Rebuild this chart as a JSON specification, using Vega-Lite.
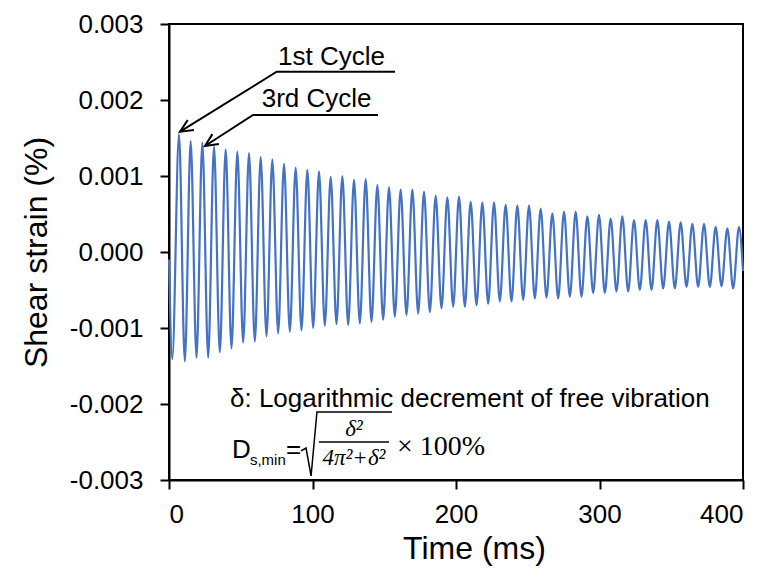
{
  "$schema": "https://vega.github.io/schema/vega-lite/v6.json",
  "width": 574,
  "height": 456,
  "autosize": {"type": "none"},
  "padding": {"left": 169, "top": 24, "right": 25, "bottom": 90},
  "background": "white",
  "config": {
    "view": {"stroke": "black", "strokeWidth": 2},
    "axis": {
      "grid": false,
      "domainColor": "black",
      "domainWidth": 2,
      "tickColor": "black",
      "tickWidth": 2,
      "tickSize": 9,
      "labelFont": "Liberation Sans",
      "labelFontSize": 26,
      "labelColor": "black",
      "titleFont": "Liberation Sans",
      "titleFontSize": 32,
      "titleFontWeight": "normal",
      "titleColor": "black"
    }
  },
  "datasets": {
    "signal": [
      {"t": 0, "v": -0.0001},
      {"t": 2.3, "v": -0.00141}, {"t": 6.97, "v": 0.00155},
      {"t": 11.03, "v": -0.00144}, {"t": 15.10, "v": 0.00146},
      {"t": 19.16, "v": -0.00139}, {"t": 23.23, "v": 0.00144},
      {"t": 27.29, "v": -0.00139}, {"t": 31.36, "v": 0.00139},
      {"t": 35.42, "v": -0.00132}, {"t": 39.49, "v": 0.00135},
      {"t": 43.55, "v": -0.00127}, {"t": 47.62, "v": 0.00132},
      {"t": 51.68, "v": -0.00119}, {"t": 55.75, "v": 0.00130},
      {"t": 59.81, "v": -0.00118}, {"t": 63.88, "v": 0.00125},
      {"t": 67.94, "v": -0.00111}, {"t": 72.01, "v": 0.00122},
      {"t": 76.07, "v": -0.00107}, {"t": 80.14, "v": 0.00116},
      {"t": 84.20, "v": -0.00105}, {"t": 88.27, "v": 0.00111},
      {"t": 92.33, "v": -0.00103}, {"t": 96.40, "v": 0.00108},
      {"t": 100.46, "v": -0.00100}, {"t": 104.53, "v": 0.00106},
      {"t": 108.59, "v": -0.00097}, {"t": 112.66, "v": 0.00099},
      {"t": 116.72, "v": -0.00095}, {"t": 120.79, "v": 0.00100},
      {"t": 124.85, "v": -0.00096}, {"t": 128.92, "v": 0.00095},
      {"t": 132.98, "v": -0.00094}, {"t": 137.05, "v": 0.00096},
      {"t": 141.11, "v": -0.00092}, {"t": 145.18, "v": 0.00088},
      {"t": 149.24, "v": -0.00089}, {"t": 153.31, "v": 0.00085},
      {"t": 157.37, "v": -0.00085}, {"t": 161.44, "v": 0.00082},
      {"t": 165.50, "v": -0.00083}, {"t": 169.57, "v": 0.00082},
      {"t": 173.63, "v": -0.00081}, {"t": 177.70, "v": 0.00079},
      {"t": 181.76, "v": -0.00079}, {"t": 185.83, "v": 0.00074},
      {"t": 189.89, "v": -0.00074}, {"t": 193.96, "v": 0.00072},
      {"t": 198.02, "v": -0.00072}, {"t": 202.09, "v": 0.00073},
      {"t": 206.15, "v": -0.00072}, {"t": 210.22, "v": 0.00066},
      {"t": 214.28, "v": -0.00070}, {"t": 218.35, "v": 0.00065},
      {"t": 222.41, "v": -0.00068}, {"t": 226.48, "v": 0.00065},
      {"t": 230.54, "v": -0.00065}, {"t": 234.61, "v": 0.00062},
      {"t": 238.67, "v": -0.00065}, {"t": 242.74, "v": 0.00061},
      {"t": 246.80, "v": -0.00063}, {"t": 250.87, "v": 0.00061},
      {"t": 254.93, "v": -0.00061}, {"t": 259.00, "v": 0.00057},
      {"t": 263.06, "v": -0.00060}, {"t": 267.13, "v": 0.00051},
      {"t": 271.19, "v": -0.00061}, {"t": 275.26, "v": 0.00053},
      {"t": 279.32, "v": -0.00059}, {"t": 283.39, "v": 0.00053},
      {"t": 287.45, "v": -0.00059}, {"t": 291.52, "v": 0.00047},
      {"t": 295.58, "v": -0.00054}, {"t": 299.65, "v": 0.00049},
      {"t": 303.71, "v": -0.00054}, {"t": 307.78, "v": 0.00044},
      {"t": 311.84, "v": -0.00052}, {"t": 315.91, "v": 0.00047},
      {"t": 319.97, "v": -0.00052}, {"t": 324.04, "v": 0.00042},
      {"t": 328.10, "v": -0.00050}, {"t": 332.17, "v": 0.00042},
      {"t": 336.23, "v": -0.00050}, {"t": 340.30, "v": 0.00042},
      {"t": 344.36, "v": -0.00048}, {"t": 348.43, "v": 0.00040},
      {"t": 352.49, "v": -0.00048}, {"t": 356.56, "v": 0.00039},
      {"t": 360.62, "v": -0.00046}, {"t": 364.69, "v": 0.00037},
      {"t": 368.75, "v": -0.00046}, {"t": 372.82, "v": 0.00037},
      {"t": 376.88, "v": -0.00046}, {"t": 380.95, "v": 0.00033},
      {"t": 385.01, "v": -0.00045}, {"t": 389.08, "v": 0.00031},
      {"t": 393.14, "v": -0.00048}, {"t": 397.21, "v": 0.00033},
      {"t": 400, "v": -0.00025}
    ],
    "paths": [
      {"path": "a1", "ord": 1, "t": 157.5, "v": 0.002372},
      {"path": "a1", "ord": 2, "t": 75.05, "v": 0.002372},
      {"path": "a1", "ord": 3, "t": 7.67, "v": 0.001583},
      {"path": "h1", "ord": 1, "t": 17.35, "v": 0.001605},
      {"path": "h1", "ord": 2, "t": 7.67, "v": 0.001583},
      {"path": "h1", "ord": 3, "t": 13.03, "v": 0.001737},
      {"path": "a2", "ord": 1, "t": 145.6, "v": 0.001803},
      {"path": "a2", "ord": 2, "t": 58.54, "v": 0.001803},
      {"path": "a2", "ord": 3, "t": 25.09, "v": 0.001395},
      {"path": "h2", "ord": 1, "t": 34.77, "v": 0.00142},
      {"path": "h2", "ord": 2, "t": 25.09, "v": 0.001395},
      {"path": "h2", "ord": 3, "t": 30.24, "v": 0.001551}
    ],
    "mathpaths": [
      {"path": "sqrt", "ord": 1, "t": 92.0, "v": -0.002618},
      {"path": "sqrt", "ord": 2, "t": 95.5, "v": -0.002579},
      {"path": "sqrt", "ord": 3, "t": 99.0, "v": -0.002947},
      {"path": "sqrt", "ord": 4, "t": 103.1, "v": -0.002105},
      {"path": "sqrt", "ord": 5, "t": 155.4, "v": -0.002105},
      {"path": "bar", "ord": 1, "t": 104.5, "v": -0.0025},
      {"path": "bar", "ord": 2, "t": 153.3, "v": -0.0025}
    ],
    "texts": [
      {"t": 76.0, "v": 0.00246, "label": "1st Cycle"},
      {"t": 64.6, "v": 0.001908, "label": "3rd Cycle"},
      {"t": 42.5, "v": -0.00204, "label": "δ: Logarithmic decrement of free vibration"},
      {"t": 43.9, "v": -0.00271, "label": "D"},
      {"t": 81.5, "v": -0.00271, "label": "="}
    ],
    "subs": [
      {"t": 56.4, "v": -0.0028, "label": "s,min"}
    ],
    "fracs": [
      {"t": 128.9, "v": -0.002421, "label": "δ²"},
      {"t": 128.9, "v": -0.002803, "label": "4π²+δ²"}
    ],
    "times": [
      {"t": 158.9, "v": -0.002671, "label": "× 100%"}
    ]
  },
  "layer": [
    {
      "data": {"name": "signal"},
      "mark": {"type": "line", "color": "#4472c4", "strokeWidth": 2.2, "interpolate": "monotone"},
      "encoding": {
        "x": {"field": "t", "type": "quantitative", "scale": {"domain": [0, 400], "nice": false},
              "axis": {"title": "Time (ms)", "values": [0, 100, 200, 300, 400], "format": "d", "labelPadding": 12, "titlePadding": 6, "titleX": 305,
                       "encode": {"ticks": {"update": {"y2": {"value": -9}}}}}},
        "y": {"field": "v", "type": "quantitative", "scale": {"domain": [-0.003, 0.003], "nice": false, "zero": false},
              "axis": {"title": "Shear strain (%)", "values": [-0.003, -0.002, -0.001, 0, 0.001, 0.002, 0.003],
                       "labelExpr": "replace(format(datum.value, '.3f'), '\u2212', '-')", "labelPadding": 17, "titlePadding": 16,
                       "encode": {"ticks": {"update": {"x2": {"value": 9}}}}}}
      }
    },
    {
      "data": {"name": "paths"},
      "mark": {"type": "line", "color": "black", "strokeWidth": 2},
      "encoding": {
        "x": {"field": "t", "type": "quantitative"},
        "y": {"field": "v", "type": "quantitative"},
        "detail": {"field": "path"},
        "order": {"field": "ord", "type": "quantitative"}
      }
    },
    {
      "data": {"name": "mathpaths"},
      "mark": {"type": "line", "color": "black", "strokeWidth": 1.5},
      "encoding": {
        "x": {"field": "t", "type": "quantitative"},
        "y": {"field": "v", "type": "quantitative"},
        "detail": {"field": "path"},
        "order": {"field": "ord", "type": "quantitative"}
      }
    },
    {
      "data": {"name": "texts"},
      "mark": {"type": "text", "align": "left", "baseline": "alphabetic", "font": "Liberation Sans", "fontSize": 26, "color": "black"},
      "encoding": {
        "x": {"field": "t", "type": "quantitative"},
        "y": {"field": "v", "type": "quantitative"},
        "text": {"field": "label"}
      }
    },
    {
      "data": {"name": "subs"},
      "mark": {"type": "text", "align": "left", "baseline": "alphabetic", "font": "Liberation Sans", "fontSize": 15, "color": "black"},
      "encoding": {
        "x": {"field": "t", "type": "quantitative"},
        "y": {"field": "v", "type": "quantitative"},
        "text": {"field": "label"}
      }
    },
    {
      "data": {"name": "fracs"},
      "mark": {"type": "text", "align": "center", "baseline": "alphabetic", "font": "Liberation Serif", "fontStyle": "italic", "fontSize": 23, "color": "black"},
      "encoding": {
        "x": {"field": "t", "type": "quantitative"},
        "y": {"field": "v", "type": "quantitative"},
        "text": {"field": "label"}
      }
    },
    {
      "data": {"name": "times"},
      "mark": {"type": "text", "align": "left", "baseline": "alphabetic", "font": "Liberation Serif", "fontSize": 28, "color": "black"},
      "encoding": {
        "x": {"field": "t", "type": "quantitative"},
        "y": {"field": "v", "type": "quantitative"},
        "text": {"field": "label"}
      }
    }
  ]
}
